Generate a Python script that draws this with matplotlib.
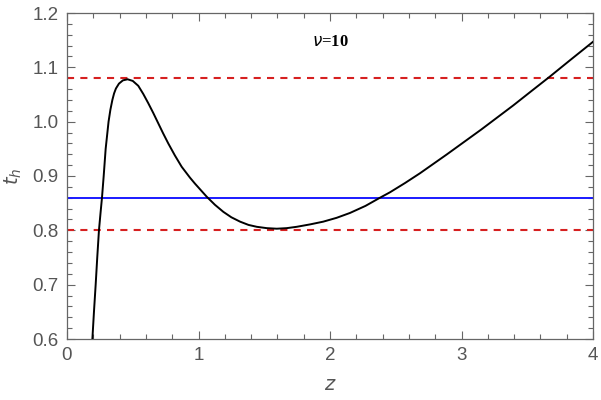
import matplotlib
matplotlib.use("Agg")
import matplotlib.pyplot as plt
from matplotlib.ticker import MultipleLocator

# Data
z_vals = [0.193, 0.205, 0.218, 0.230, 0.243, 0.255, 0.266, 0.279, 0.294, 0.316,
          0.330, 0.345, 0.358, 0.372, 0.395, 0.425, 0.461, 0.50, 0.542, 0.58,
          0.618, 0.656, 0.694, 0.73, 0.77, 0.82, 0.872, 0.935, 0.973, 1.062,
          1.125, 1.189, 1.25, 1.316, 1.38, 1.443, 1.52, 1.595, 1.67, 1.747,
          1.85, 1.949, 2.05, 2.152, 2.27, 2.38, 2.456, 2.57, 2.684, 2.887,
          3.15, 3.394, 3.53, 3.67, 3.83, 4.0]
th_vals = [0.600, 0.650, 0.700, 0.750, 0.800, 0.832, 0.860, 0.900, 0.950, 1.000,
           1.022, 1.040, 1.052, 1.061, 1.070, 1.076, 1.078, 1.075, 1.066, 1.051,
           1.034, 1.016, 0.997, 0.979, 0.960, 0.938, 0.917, 0.897, 0.886, 0.862,
           0.847, 0.834, 0.824, 0.816, 0.810, 0.8065, 0.804, 0.803, 0.804, 0.8065,
           0.811, 0.816, 0.823, 0.832, 0.845, 0.860, 0.870, 0.887, 0.905, 0.9395,
           0.9855, 1.030, 1.056, 1.0826, 1.114, 1.147]
blue_level = 0.86
red_levels = [1.08, 0.80]
nu_label = "10"

fig = plt.figure(figsize=(6.01, 4.00), dpi=100)
ax = fig.add_axes([67/601, 61/400, 526/601, 326/400])

gray = "#666666"
txtgray = "#555555"

ax.axhline(blue_level, color="#1a1aff", lw=1.4, zorder=2)
for r in red_levels:
    ax.axhline(r, color="#d62020", lw=1.5, ls=(0, (3.4, 3.0)), zorder=2)
ax.plot(z_vals, th_vals, color="black", lw=1.4, zorder=3,
        solid_joinstyle="round", antialiased=True)

ax.set_xlim(0, 4)
ax.set_ylim(0.6, 1.2)
ax.xaxis.set_major_locator(MultipleLocator(1))
ax.xaxis.set_minor_locator(MultipleLocator(0.2))
ax.yaxis.set_minor_locator(MultipleLocator(0.02))
ax.set_yticks([0.6, 0.7, 0.8, 0.9, 1.0, 1.1, 1.2])
ax.set_yticklabels(["0.6", "0.7", "0.8", "0.9", "1.0", "1.1", "1.2"])

for s in ax.spines.values():
    s.set_color(gray)
    s.set_linewidth(0.9)

ax.tick_params(which="both", direction="in", top=True, right=True,
               color=gray, labelcolor=txtgray, width=0.8)
ax.tick_params(which="major", length=6, labelsize=13.5, pad=6)
ax.tick_params(which="minor", length=3.5)
for lab in ax.get_xticklabels() + ax.get_yticklabels():
    lab.set_family("Liberation Sans")

ax.set_xlabel("$z$", fontsize=14, color=txtgray, labelpad=8)
ax.set_ylabel("$t_h$", fontsize=14, color=txtgray, labelpad=6)

ax.text(2.0, 1.146, r"$\mathit{\nu}$" + "=" + nu_label, ha="center", va="center",
        fontsize=12, fontweight="bold", family="Liberation Serif", color="black")

fig.savefig("out.png", dpi=100)
